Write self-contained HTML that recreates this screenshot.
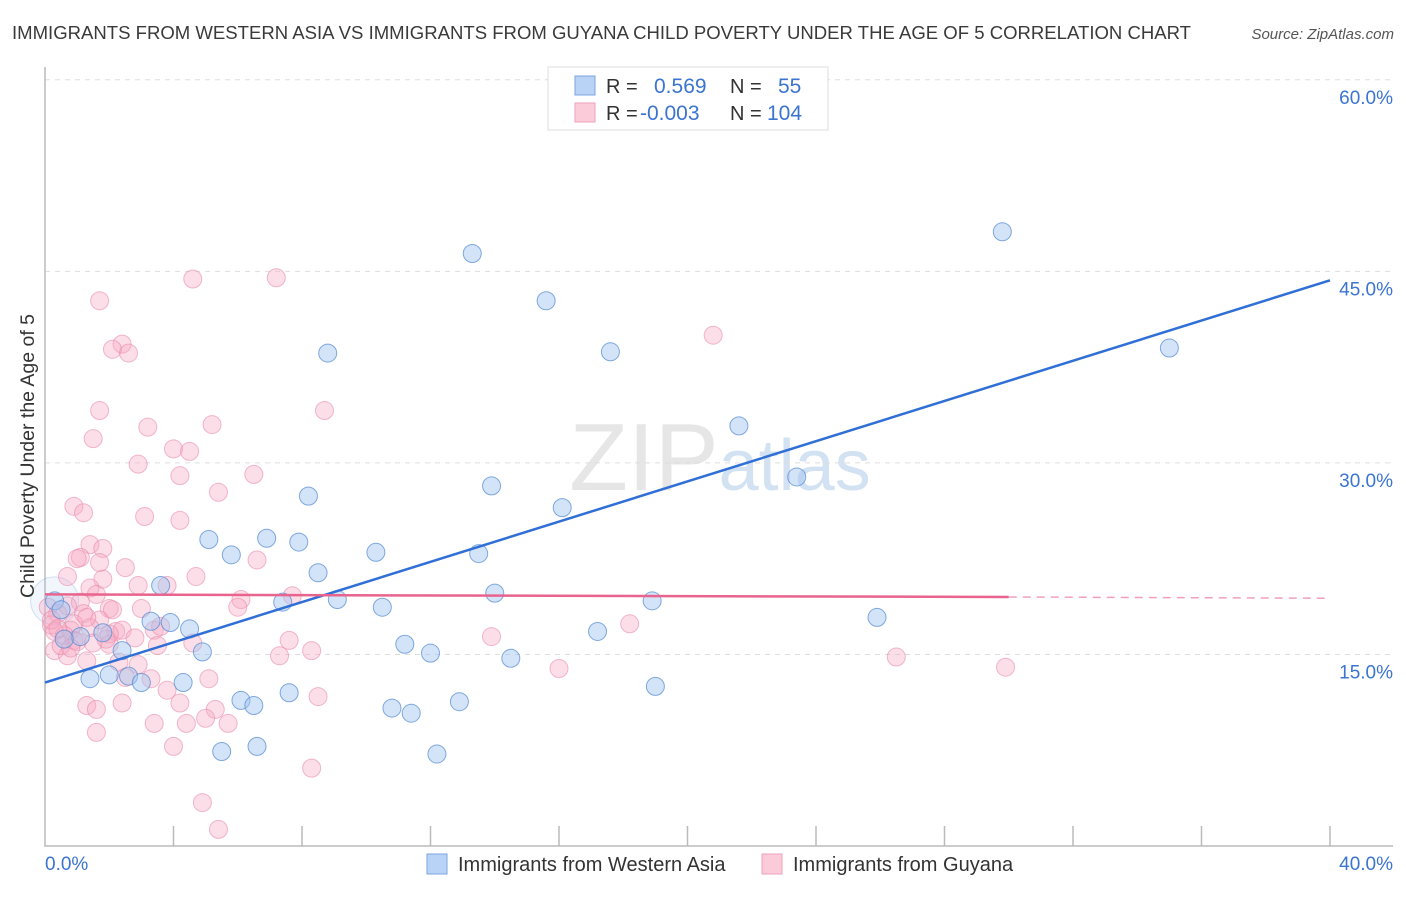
<!DOCTYPE html>
<html><head><meta charset="utf-8"><style>
body{margin:0;background:#fff;font-family:"Liberation Sans",sans-serif;}
svg text{font-family:"Liberation Sans",sans-serif;}
</style></head><body>
<svg id="c" width="1406" height="892" viewBox="0 0 1406 892" xmlns="http://www.w3.org/2000/svg">
<text x="12" y="39" font-size="18.5" fill="#3a3a3a" textLength="1179" lengthAdjust="spacingAndGlyphs">IMMIGRANTS FROM WESTERN ASIA VS IMMIGRANTS FROM GUYANA CHILD POVERTY UNDER THE AGE OF 5 CORRELATION CHART</text>
<text x="1394" y="39" font-size="15" fill="#555" text-anchor="end" font-style="italic">Source: ZipAtlas.com</text>
<text x="720" y="490" font-size="96" fill="#e6e6e6" text-anchor="middle" font-family="Liberation Serif">ZIP<tspan fill="#d3e2f3" font-family="Liberation Sans" font-size="72">atlas</tspan></text>
<g id="grid"></g>
<g id="axes"></g>
<g id="pts"></g>
<g id="lines"></g>
<text transform="translate(34,456) rotate(-90)" font-size="19.5" fill="#333" text-anchor="middle">Child Poverty Under the Age of 5</text>
<g>
<rect x="548" y="67" width="280" height="63" fill="#fff" stroke="#ddd"/>
<rect x="575" y="76" width="20" height="19" fill="#b8d3f5" stroke="#7aa6e0"/>
<rect x="575" y="103" width="20" height="19" fill="#fccbd9" stroke="#eea2bb"/>
<text x="606" y="93" font-size="20" fill="#333">R =</text>
<text x="654" y="93" font-size="21" fill="#3b74d1">0.569</text>
<text x="730" y="93" font-size="20" fill="#333">N =</text>
<text x="778" y="93" font-size="21" fill="#3b74d1">55</text>
<text x="606" y="120" font-size="20" fill="#333">R =</text>
<text x="640" y="120" font-size="21" fill="#3b74d1">-0.003</text>
<text x="730" y="120" font-size="20" fill="#333">N =</text>
<text x="767" y="120" font-size="21" fill="#3b74d1">104</text>
</g>
<g>
<rect x="427" y="854" width="20" height="20" fill="#b8d3f5" stroke="#7aa6e0"/>
<text x="458" y="871" font-size="20" fill="#333">Immigrants from Western Asia</text>
<rect x="762" y="854" width="20" height="20" fill="#fccbd9" stroke="#eea2bb"/>
<text x="793" y="871" font-size="20" fill="#333">Immigrants from Guyana</text>
</g>
</svg>
<script>
const xTicks=[0,4,8,12,16,20,24,28,32,36,40];
const yTicks=[15,30,45,60];
const blueX=[29.8,13.3,15.6,8.8,17.6,35.0,21.6,23.4,13.9,8.2,16.1,5.1,6.9,7.9,5.8,10.3,13.5,8.5,3.6,14.0,9.1,7.4,10.5,18.9,25.9,3.3,3.9,4.5,17.2,11.2,12.0,4.9,2.4,14.5,1.8,1.1,0.6,0.3,1.4,2.0,2.6,3.0,4.3,19.0,6.1,6.5,7.6,10.8,11.4,12.9,5.5,6.6,12.2,23.8,0.5];
const blueY=[48.1,46.4,42.7,38.6,38.7,39.0,32.9,28.9,28.2,27.4,26.5,24.0,24.1,23.8,22.8,23.0,22.9,21.4,20.4,19.8,19.3,19.1,18.7,19.2,17.9,17.6,17.5,17.0,16.8,15.8,15.1,15.2,15.3,14.7,16.7,16.4,16.2,19.2,13.1,13.4,13.3,12.8,12.8,12.5,11.4,11.0,12.0,10.8,10.4,11.3,7.4,7.8,7.2,57.3,18.5];
const pinkX=[4.6,7.2,1.7,20.8,2.4,2.1,2.6,1.7,8.7,5.2,3.2,1.5,4.0,4.5,2.9,4.2,6.5,5.4,0.9,1.2,3.1,4.2,1.4,1.8,1.1,1.0,1.7,6.6,2.5,0.7,1.8,4.7,1.4,2.9,3.8,1.6,7.7,6.1,1.1,0.7,2.0,3.0,2.1,6.0,0.1,0.4,1.2,1.7,0.9,0.2,0.3,0.8,1.4,2.2,2.4,3.4,18.2,13.9,7.6,3.5,4.6,8.3,0.3,0.7,1.3,2.3,7.3,26.5,2.9,29.9,16.0,2.5,3.3,3.8,8.5,5.1,1.3,1.6,2.4,4.2,5.3,5.0,5.7,3.4,4.4,1.6,4.0,8.3,4.9,5.4,0.2,0.5,0.9,2.0,2.0,0.6,1.0,0.4,1.5,2.8,3.6,0.8,1.9,1.3];
const pinkY=[44.4,44.5,42.7,40.0,39.3,38.9,38.6,34.1,34.1,33.0,32.8,31.9,31.1,30.9,29.9,29.0,29.1,27.7,26.6,26.1,25.8,25.5,23.6,23.3,22.6,22.5,22.2,22.4,21.8,21.1,20.9,21.1,20.2,20.4,20.4,19.7,19.6,19.3,19.1,18.8,18.6,18.6,18.5,18.7,18.7,18.2,18.2,17.7,17.4,17.3,16.8,16.9,17.1,16.8,16.9,16.9,17.4,16.4,16.1,15.7,15.9,15.3,15.3,14.9,14.5,14.4,14.9,14.8,14.2,14.0,13.9,13.2,13.1,12.2,11.7,13.1,11.0,10.7,11.2,11.2,10.7,10.0,9.6,9.6,9.6,8.9,7.8,6.1,3.4,1.3,17.7,15.7,16.1,16.6,15.8,16.5,16.0,17.0,15.9,16.3,17.2,15.5,16.2,17.9];
const blueTrend=[12.8,44.3];
const pinkTrend=[19.7,19.5,19.4];
const X=v=>45+v/40*1285, Y=v=>846-v*12.77;
const NS='http://www.w3.org/2000/svg';
function mk(p,t,a){const e=document.createElementNS(NS,t);for(const k in a)e.setAttribute(k,a[k]);document.getElementById(p).appendChild(e);return e;}
yTicks.forEach(t=>{
 const g=mk('grid','line',{x1:45,x2:1393,y1:Y(t),y2:Y(t),stroke:'#ddd','stroke-dasharray':'5,5'});
 
 
 const l=mk('axes','text',{x:1393,y:Y(t)+24,'font-size':19,fill:'#3b74d1','text-anchor':'end'});
 l.textContent=t.toFixed(1)+'%';
 
 
});
const ax=mk('axes','path',{d:'M45,67 V846 H1393',fill:'none',stroke:'#bbb','stroke-width':1.5});


xTicks.forEach(t=>{
 if(t===0)return;
 const tk=mk('axes','line',{x1:X(t),x2:X(t),y1:826,y2:846,stroke:'#bbb','stroke-width':1.5});
 
 
});
[[0,'start'],[40,'end']].forEach(([t,a])=>{
 const l=mk('axes','text',{x:t===0?45:1393,y:870,'font-size':19,fill:'#3b74d1','text-anchor':a});
 l.textContent=t.toFixed(1)+'%';
 
 
});
const big=mk('pts','circle',{cx:X(0.3),cy:Y(19.2),r:24,fill:'rgba(160,196,240,0.15)',stroke:'rgba(91,143,214,0.25)'});


pinkX.forEach((x,i)=>{
 const c=mk('pts','circle',{cx:X(x),cy:Y(pinkY[i]),r:9,fill:'rgba(246,168,194,0.38)',stroke:'rgba(232,140,170,0.6)'});
 
 
});
blueX.forEach((x,i)=>{
 const c=mk('pts','circle',{cx:X(x),cy:Y(blueY[i]),r:9,fill:'rgba(160,196,240,0.45)',stroke:'rgba(80,135,210,0.7)'});
 
 
});
const bl=mk('lines','line',{x1:X(0),y1:Y(blueTrend[0]),x2:X(40),y2:Y(blueTrend[1]),stroke:'#2f6fd6','stroke-width':2.5});


const pl=mk('lines','line',{x1:X(0),y1:Y(pinkTrend[0]),x2:X(30),y2:Y(pinkTrend[1]),stroke:'#e8648e','stroke-width':2.5});


const pd=mk('lines','line',{x1:X(30),y1:Y(pinkTrend[1]),x2:X(40),y2:Y(pinkTrend[2]),stroke:'#f0a0b8','stroke-width':1.5,'stroke-dasharray':'8,6'});


</script>
</body></html>
